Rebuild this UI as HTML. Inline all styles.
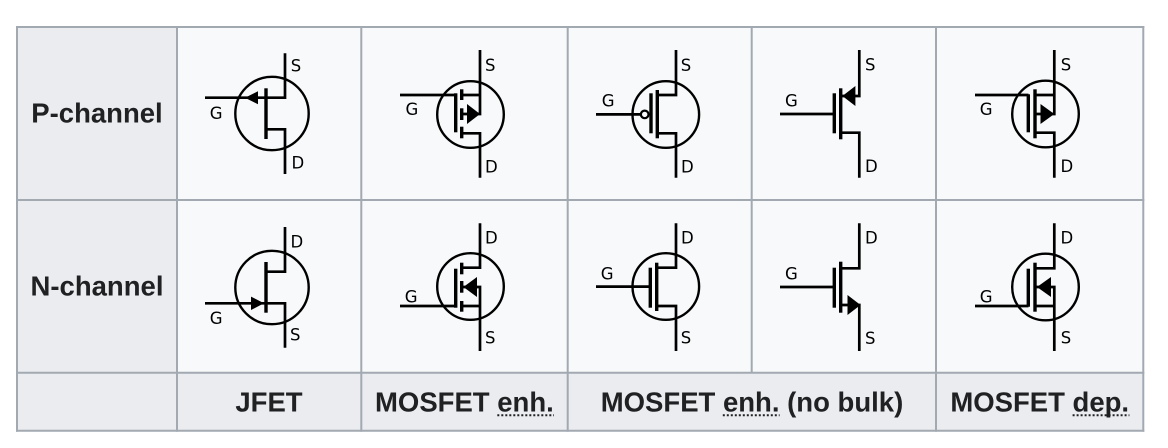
<!DOCTYPE html>
<html>
<head>
<meta charset="utf-8">
<style>
  html,body{margin:0;padding:0;background:#ffffff;}
  svg{display:block;}
  .hd{font-family:"Liberation Sans",Arial,sans-serif;font-weight:bold;font-size:27.5px;fill:#202122;}
  .lb{font-family:"DejaVu Sans","Liberation Sans",sans-serif;font-size:16.5px;fill:#000;}
  .ln{fill:none;stroke:#000;stroke-width:2.7;stroke-linejoin:miter;stroke-linecap:butt;}
  .cr{fill:none;stroke:#000;stroke-width:2.4;}
</style>
</head>
<body>
<svg width="1168" height="448" viewBox="0 0 1168 448" xmlns="http://www.w3.org/2000/svg">
  <!-- backgrounds -->
  <rect x="17" y="27" width="1126.3" height="403.7" fill="#f8f9fa"/>
  <rect x="17" y="27" width="160" height="403.7" fill="#eaecf0"/>
  <rect x="17" y="372.7" width="1126.3" height="58" fill="#eaecf0"/>

  <!-- grid -->
  <g stroke="#a2a9b1" stroke-width="2" fill="none">
    <line x1="16" y1="27" x2="1144.3" y2="27"/>
    <line x1="16" y1="200" x2="1144.3" y2="200"/>
    <line x1="16" y1="372.7" x2="1144.3" y2="372.7"/>
    <line x1="16" y1="430.7" x2="1144.3" y2="430.7"/>
    <line x1="17" y1="26" x2="17" y2="431.7"/>
    <line x1="177" y1="26" x2="177" y2="431.7"/>
    <line x1="361.3" y1="26" x2="361.3" y2="431.7"/>
    <line x1="567.7" y1="26" x2="567.7" y2="431.7"/>
    <line x1="751.7" y1="26" x2="751.7" y2="372.7"/>
    <line x1="936" y1="26" x2="936" y2="431.7"/>
    <line x1="1143.3" y1="26" x2="1143.3" y2="431.7"/>
  </g>

  <!-- header texts -->
  <text class="hd" x="97" y="122.7" text-anchor="middle">P-channel</text>
  <text class="hd" x="97" y="295.7" text-anchor="middle">N-channel</text>
  <text class="hd" x="269" y="411.7" text-anchor="middle">JFET</text>
  <text class="hd" x="464.4" y="411.7" text-anchor="middle">MOSFET enh.</text>
  <text class="hd" x="752" y="411.7" text-anchor="middle">MOSFET enh. (no bulk)</text>
  <text class="hd" x="1039.7" y="411.7" text-anchor="middle">MOSFET dep.</text>
  <g stroke="#202122" stroke-width="2" stroke-dasharray="2 2">
    <line x1="497.3" y1="415.3" x2="554" y2="415.3"/>
    <line x1="722.8" y1="415.3" x2="779.6" y2="415.3"/>
    <line x1="1072.6" y1="415.3" x2="1129.4" y2="415.3"/>
  </g>

  <!-- ============ P-channel row ============ -->
  <!-- P JFET -->
  <g>
    <polyline class="ln" points="285,53.3 285,97.7 205,97.7"/>
    <polyline class="ln" points="266,129.3 285,129.3 285,174"/>
    <rect x="264.3" y="88.3" width="3.4" height="50.7" fill="#000"/>
    <circle class="cr" cx="272" cy="113.5" r="36.7"/>
    <polygon points="245,97.7 258,91.2 258,104.2" fill="#000"/>
  </g>
  <!-- P MOSFET enh -->
  <g>
    <polyline class="ln" points="480,50 480,114 461.7,114"/>
    <line class="ln" x1="461.7" y1="95" x2="480" y2="95"/>
    <polyline class="ln" points="461.7,133.3 480,133.3 480,177.7"/>
    <line class="ln" x1="400" y1="95" x2="456" y2="95"/>
    <rect x="454" y="93.3" width="3.4" height="39" fill="#000"/>
    <rect x="460" y="89.3" width="3.4" height="10.7" fill="#000"/>
    <rect x="460" y="108.3" width="3.4" height="11.7" fill="#000"/>
    <rect x="460" y="126.7" width="3.4" height="11.6" fill="#000"/>
    <circle class="cr" cx="470.5" cy="114.5" r="33.3"/>
    <polygon points="480,114 467,104 467,124" fill="#000"/>
  </g>
  <!-- P no bulk, circle -->
  <g>
    <polyline class="ln" points="676,50 676,95 657.3,95"/>
    <polyline class="ln" points="657.3,133.3 676,133.3 676,177.7"/>
    <line class="ln" x1="596" y1="114.4" x2="640.5" y2="114.4"/>
    <circle cx="644.7" cy="114.4" r="3.8" fill="#f8f9fa" stroke="#000" stroke-width="2.2"/>
    <rect x="649.3" y="93.3" width="3.4" height="40" fill="#000"/>
    <rect x="655.6" y="90" width="3.4" height="48.3" fill="#000"/>
    <circle class="cr" cx="665.8" cy="114.5" r="33.3"/>
  </g>
  <!-- P no bulk, no circle -->
  <g>
    <polyline class="ln" points="859.3,50 859.3,96 840.7,96"/>
    <polyline class="ln" points="840.7,132.7 859.3,132.7 859.3,177.7"/>
    <line class="ln" x1="780" y1="114" x2="834.3" y2="114"/>
    <rect x="832.6" y="93.3" width="3.4" height="40" fill="#000"/>
    <rect x="839" y="88.3" width="3.4" height="51" fill="#000"/>
    <polygon points="842.4,96 855.4,86 855.4,106" fill="#000"/>
  </g>
  <!-- P dep -->
  <g>
    <polyline class="ln" points="1054.3,50 1054.3,114 1035,114"/>
    <line class="ln" x1="1035" y1="95" x2="1054.3" y2="95"/>
    <polyline class="ln" points="1035,132.7 1054.3,132.7 1054.3,177.7"/>
    <line class="ln" x1="975" y1="95" x2="1028.5" y2="95"/>
    <rect x="1026.6" y="94.3" width="3.4" height="38" fill="#000"/>
    <rect x="1033.3" y="89.3" width="3.4" height="49" fill="#000"/>
    <circle class="cr" cx="1045.5" cy="114" r="33.3"/>
    <polygon points="1054.3,114 1040.5,104 1040.5,124" fill="#000"/>
  </g>

  <!-- ============ N-channel row (mirrored) ============ -->
  <g transform="translate(0,401) scale(1,-1)">
    <!-- N JFET -->
    <polyline class="ln" points="285,53.3 285,97.7 205,97.7"/>
    <polyline class="ln" points="266,129.3 285,129.3 285,174"/>
    <rect x="264.3" y="88.3" width="3.4" height="50.7" fill="#000"/>
    <circle class="cr" cx="272" cy="113.5" r="36.7"/>
    <polygon points="264,97.7 251,91 251,104.4" fill="#000"/>

    <!-- N MOSFET enh -->
    <polyline class="ln" points="480,50 480,114 461.7,114"/>
    <line class="ln" x1="461.7" y1="95" x2="480" y2="95"/>
    <polyline class="ln" points="461.7,133.3 480,133.3 480,177.7"/>
    <line class="ln" x1="400" y1="95" x2="456" y2="95"/>
    <rect x="454" y="93.3" width="3.4" height="39" fill="#000"/>
    <rect x="460" y="89.3" width="3.4" height="10.7" fill="#000"/>
    <rect x="460" y="108.3" width="3.4" height="11.7" fill="#000"/>
    <rect x="460" y="126.7" width="3.4" height="11.6" fill="#000"/>
    <circle class="cr" cx="470.5" cy="114.5" r="33.3"/>
    <polygon points="463.4,114 477,104 477,124" fill="#000"/>

    <!-- N no bulk, circle -->
    <polyline class="ln" points="676,50 676,95 657.3,95"/>
    <polyline class="ln" points="657.3,133.3 676,133.3 676,177.7"/>
    <line class="ln" x1="596" y1="114.4" x2="650" y2="114.4"/>
    <rect x="648.6" y="93.3" width="3.4" height="40" fill="#000"/>
    <rect x="655" y="90" width="3.4" height="48.3" fill="#000"/>
    <circle class="cr" cx="665.8" cy="114.5" r="33.3"/>

    <!-- N no bulk, no circle -->
    <polyline class="ln" points="859.3,50 859.3,96 840.7,96"/>
    <polyline class="ln" points="840.7,132.7 859.3,132.7 859.3,177.7"/>
    <line class="ln" x1="780" y1="114" x2="834.3" y2="114"/>
    <rect x="832.6" y="93.3" width="3.4" height="40" fill="#000"/>
    <rect x="839" y="88.3" width="3.4" height="51" fill="#000"/>
    <polygon points="860.5,96 847.5,86 847.5,106" fill="#000"/>

    <!-- N dep -->
    <polyline class="ln" points="1054.3,50 1054.3,114 1035,114"/>
    <line class="ln" x1="1035" y1="95" x2="1054.3" y2="95"/>
    <polyline class="ln" points="1035,132.7 1054.3,132.7 1054.3,177.7"/>
    <line class="ln" x1="975" y1="95" x2="1028.5" y2="95"/>
    <rect x="1026.6" y="94.3" width="3.4" height="38" fill="#000"/>
    <rect x="1033.3" y="89.3" width="3.4" height="49" fill="#000"/>
    <circle class="cr" cx="1045.5" cy="114" r="33.3"/>
    <polygon points="1037,114 1051,104 1051,124" fill="#000"/>
  </g>

  <!-- pin labels P row -->
  <text class="lb" x="290.7" y="71.7">S</text>
  <text class="lb" x="209.8" y="119">G</text>
  <text class="lb" x="291.5" y="168.3">D</text>

  <text class="lb" x="485" y="71">S</text>
  <text class="lb" x="405.5" y="115">G</text>
  <text class="lb" x="485" y="172.5">D</text>

  <text class="lb" x="680.7" y="71">S</text>
  <text class="lb" x="601.7" y="106.7">G</text>
  <text class="lb" x="681" y="172.5">D</text>

  <text class="lb" x="865" y="70.5">S</text>
  <text class="lb" x="785" y="106.7">G</text>
  <text class="lb" x="865" y="172">D</text>

  <text class="lb" x="1060.7" y="70.5">S</text>
  <text class="lb" x="979.8" y="115">G</text>
  <text class="lb" x="1060.5" y="172">D</text>

  <!-- pin labels N row -->
  <text class="lb" x="290.5" y="247.7">D</text>
  <text class="lb" x="209.8" y="324">G</text>
  <text class="lb" x="290" y="340.7">S</text>

  <text class="lb" x="485" y="243.3">D</text>
  <text class="lb" x="404.8" y="302.7">G</text>
  <text class="lb" x="485" y="343.3">S</text>

  <text class="lb" x="681" y="243.3">D</text>
  <text class="lb" x="600.8" y="279.3">G</text>
  <text class="lb" x="680.7" y="343.3">S</text>

  <text class="lb" x="865" y="243.3">D</text>
  <text class="lb" x="785" y="279.3">G</text>
  <text class="lb" x="865" y="344">S</text>

  <text class="lb" x="1060.5" y="243.3">D</text>
  <text class="lb" x="979.8" y="302.3">G</text>
  <text class="lb" x="1060.7" y="343.3">S</text>
</svg>
</body>
</html>
